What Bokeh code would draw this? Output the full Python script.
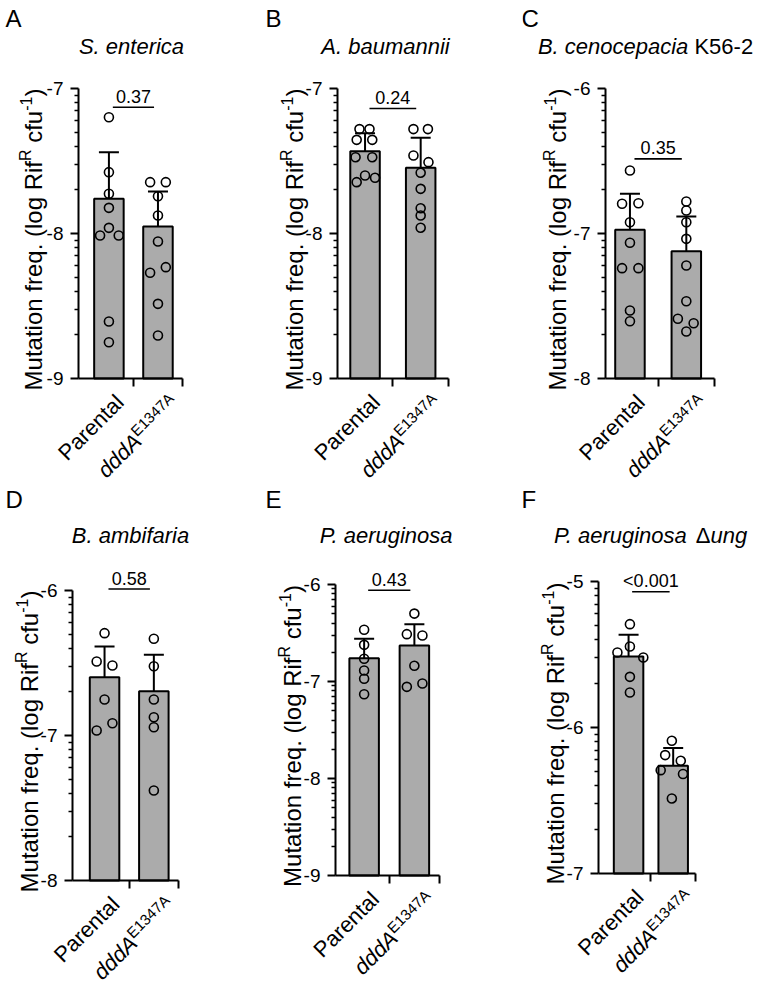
import math
from bokeh.plotting import figure
from bokeh.models import Range1d, FixedTicker, Label, LinearAxis
from bokeh.layouts import column, row
from bokeh.embed import file_html
from bokeh.resources import INLINE

FONT = "Liberation Sans"

# ---------------- data: log10 mutation frequency (Rif^R cfu^-1) ----------------
letters = ["A", "B", "C", "D", "E", "F"]
species = ["S. enterica", "A. baumannii", "B. cenocepacia", "B. ambifaria", "P. aeruginosa", "P. aeruginosa"]
species_upright = ["", "", "K56-2", "", "", "\u0394"]
species_tail = ["", "", "", "", "", "ung"]
categories = ["Parental", "dddA"]
cat_superscript = "E1347A"
p_values = ["0.37", "0.24", "0.35", "0.58", "0.43", "<0.001"]

y_lo = [-9, -9, -8, -8, -9, -7]
y_hi = [-7, -7, -6, -6, -6, -5]

bar_means = [
    [-7.761, -7.952],
    [-7.432, -7.547],
    [-6.974, -7.122],
    [-6.598, -6.694],
    [-6.760, -6.629],
    [-5.514, -6.262],
]
err_tops = [
    [-7.439, -7.710],
    [-7.308, -7.340],
    [-6.726, -6.883],
    [-6.386, -6.443],
    [-6.560, -6.409],
    [-5.365, -6.141],
]
bracket_y = [-7.129, -7.138, -6.485, -5.99, -6.06, -5.07]

parental_pts = [
    [-7.198, -7.577, -7.726, -7.823, -7.961, -8.014, -8.014, -8.607, -8.750],
    [-7.280, -7.280, -7.354, -7.354, -7.474, -7.474, -7.600, -7.616, -7.646],
    [-6.566, -6.795, -6.791, -6.922, -7.064, -7.239, -7.239, -7.531, -7.605],
    [-6.294, -6.490, -6.517, -6.752, -6.915, -6.966],
    [-6.467, -6.622, -6.766, -6.887, -6.972, -7.131],
    [-5.292, -5.445, -5.486, -5.521, -5.653, -5.760],
]
parental_dx = [
    [0, 0, 0, 0, 0, -0.18, 0.2, 0, 0],
    [-0.1, 0.08, -0.15, 0.13, -0.17, 0.13, 0, 0.18, -0.15],
    [0, -0.14, 0.15, 0, 0, -0.14, 0.15, 0, 0],
    [0, -0.16, 0.16, 0, 0.16, -0.16],
    [0, 0, 0, 0, 0, 0],
    [0.03, 0.03, -0.25, 0.33, 0.03, 0.03],
]
mutant_pts = [
    [-7.646, -7.646, -7.743, -7.876, -8.055, -8.271, -8.232, -8.485, -8.703],
    [-7.280, -7.280, -7.462, -7.508, -7.581, -7.692, -7.826, -7.876, -7.960],
    [-6.779, -6.841, -6.922, -7.037, -7.221, -7.467, -7.588, -7.619, -7.676],
    [-6.333, -6.522, -6.752, -6.874, -6.943, -7.379],
    [-6.300, -6.512, -6.526, -6.838, -7.055, -7.021],
    [-6.091, -6.189, -6.228, -6.292, -6.319, -6.486],
]
mutant_dx = [
    [-0.16, 0.16, 0, 0, 0, -0.16, 0.16, 0, 0],
    [-0.13, 0.13, -0.13, 0.14, 0, 0, 0, 0, 0],
    [0, 0, 0, 0, 0, 0, -0.15, 0.13, 0],
    [0, 0, 0, 0, 0, 0],
    [0, -0.15, 0.16, 0, -0.15, 0.16],
    [-0.03, -0.18, 0.17, -0.28, 0.22, -0.03],
]

# ---------------- layout (window pixel positions) ----------------
FIG_W = [261, 261, 261, 261, 261, 261]
FIG_H = [484, 484, 484, 504, 504, 504]
fig_x = [0, 261, 522, 0, 261, 522]
fig_y = [0, 0, 0, 484, 484, 484]
axis_x = [78, 337, 605, 72, 335, 598]
frame_w = [104, 111, 109, 106, 104, 97]
x_start = [0.38, 0.505, 0.566, 0.35, 0.43, 0.326]
top_px = [88, 88, 88, 590, 584, 581]
bot_px = [378, 378, 378, 880, 875, 873]
title_cx = [131, 385, 645, 130, 387, 650]
title_mid = [46, 46, 46, 535, 535, 535]
letter_mid = [18, 18, 18, 499, 499, 499]
letter_x = [5, 265, 521, 5, 265, 521]
ylab_dx = [-45, -43, -48, -43, -43, -43]

AW = {' ': 278, '.': 278, '(': 333, ')': 333, '-': 333, '<': 584, 'A': 667, 'B': 667, 'C': 722,
      'D': 722, 'E': 667, 'F': 611, 'K': 667, 'M': 833, 'P': 667, 'R': 722, 'S': 667, 'a': 556,
      'b': 556, 'c': 500, 'd': 556, 'e': 556, 'f': 278, 'g': 556, 'i': 222, 'l': 222, 'm': 833,
      'n': 556, 'o': 556, 'p': 556, 'q': 556, 'r': 333, 's': 500, 't': 278, 'u': 556, '\u0394': 668}


def tw(s, fs):
    return sum(AW.get(ch, 556) for ch in s) / 1000.0 * fs


def make_panel(i):
    lo, hi = y_lo[i], y_hi[i]
    W, H = FIG_W[i], FIG_H[i]
    ppu = (bot_px[i] - top_px[i]) / (hi - lo)
    spacing = frame_w[i] / (2.5 - x_start[i])
    fig_bottom = fig_y[i] + H
    # frame covers the whole figure; axes are drawn at fixed locations
    xr0 = x_start[i] - (axis_x[i] - fig_x[i]) / spacing
    xr1 = xr0 + W / spacing
    yr0 = lo - (fig_bottom - bot_px[i]) / ppu
    yr1 = hi + (top_px[i] - fig_y[i]) / ppu

    p = figure(width=W, height=H, output_backend="svg", toolbar_location=None,
               x_range=Range1d(xr0, xr1), y_range=Range1d(yr0, yr1),
               x_axis_location=None, y_axis_location=None, min_border=0)
    p.outline_line_color = None
    p.grid.visible = False
    p.background_fill_color = "white"
    p.border_fill_color = "white"

    bw = 29.5 / spacing

    majors = list(range(lo, hi + 1))
    minors = [n + math.log10(k) for n in range(lo, hi) for k in range(2, 10)]
    yax = LinearAxis(fixed_location=x_start[i], bounds=(lo, hi),
                     ticker=FixedTicker(ticks=majors, minor_ticks=minors),
                     major_label_overrides={m: str(m) for m in majors})
    yax.axis_line_width = 2
    yax.major_tick_line_width = 2
    yax.minor_tick_line_width = 1.5
    yax.major_tick_out = 8
    yax.major_tick_in = 0
    yax.minor_tick_out = 4
    yax.minor_tick_in = 0
    yax.major_label_standoff = 7
    yax.major_label_text_font = FONT
    yax.major_label_text_font_size = "19px"
    yax.major_label_text_color = "black"
    p.add_layout(yax, "left")

    xax = LinearAxis(fixed_location=lo, bounds=(x_start[i], 2.5),
                     ticker=FixedTicker(ticks=[1.5, 2.5], minor_ticks=[]),
                     major_label_overrides={1.5: "", 2.5: ""})
    xax.major_label_text_font_size = "0px"
    xax.axis_line_width = 2
    xax.major_tick_line_width = 2
    xax.major_tick_out = 8
    xax.major_tick_in = 0
    p.add_layout(xax, "below")

    xs = [1, 2]
    p.vbar(x=xs, top=bar_means[i], bottom=lo, width=bw, fill_color="#ababab",
           line_color="black", line_width=2)
    p.segment(x0=xs, y0=bar_means[i], x1=xs, y1=err_tops[i], line_color="black", line_width=2)
    cap = 10.0 / spacing
    p.segment(x0=[x - cap for x in xs], y0=err_tops[i], x1=[x + cap for x in xs], y1=err_tops[i],
              line_color="black", line_width=2)

    px = [1 + d for d in parental_dx[i]]
    mx = [2 + d for d in mutant_dx[i]]
    p.scatter(x=px, y=parental_pts[i], size=9, fill_alpha=0, line_color="black", line_width=1.6)
    p.scatter(x=mx, y=mutant_pts[i], size=9, fill_alpha=0, line_color="black", line_width=1.6)

    def lab(text, x, y, size, xu="screen", yu="screen", angle=0.0, align="left",
            style="normal", x_offset=0, y_offset=0):
        p.add_layout(Label(x=x, y=y, x_units=xu, y_units=yu, text=text, angle=angle,
                           text_align=align, text_baseline="middle", text_font=FONT,
                           text_font_size=f"{size}px", text_font_style=style,
                           x_offset=x_offset, y_offset=y_offset, text_color="black"))

    def sx(X):
        return X - fig_x[i]

    def sy(Y):
        return fig_bottom - Y

    # significance bracket
    p.segment(x0=[1.08], y0=[bracket_y[i]], x1=[1.92], y1=[bracket_y[i]], line_color="black",
              line_width=1.6)
    lab(p_values[i], 1.5, bracket_y[i], 18, xu="data", yu="data", align="center", y_offset=11)

    # panel letter
    lab(letters[i], sx(letter_x[i]), sy(letter_mid[i]), 24)

    # title: italic species name + optional upright / italic parts
    fs = 22
    parts = [(species[i], "italic")]
    if species_upright[i]:
        parts.append((species_upright[i], "normal"))
    if species_tail[i]:
        parts.append((species_tail[i], "italic"))
    gap = tw(" ", fs)
    widths = [tw(t, fs) for t, _ in parts]
    total = sum(widths) + gap * (1 if len(parts) > 1 else 0)
    x0 = title_cx[i] - total / 2
    for k, (t, st) in enumerate(parts):
        lab(t, sx(x0), sy(title_mid[i]), fs, style=st)
        x0 += widths[k]
        if k == 0:
            x0 += gap

    # y-axis label, rotated, with superscripts (leading spaces become explicit gaps)
    big, small, rise = 24, 16, 8
    pieces = [("Mutation freq. (log Rif", big, 0, 0), ("R", small, rise, 0),
              ("cfu", big, 0, tw(" ", big)), ("-1", small, rise, 0), (")", big, 0, 0)]
    L = sum(tw(t, s) + g for t, s, _, g in pieces)
    yy = sy((bot_px[i] + top_px[i]) / 2.0 + 6) - L / 2
    xmid = sx(axis_x[i] + ylab_dx[i])
    for t, s, r, g in pieces:
        yy += g
        lab(t, xmid - r, yy, s, angle=math.pi / 2)
        yy += tw(t, s)

    # category labels rotated 45 degrees (anchor = right end, middle line)
    c = math.sqrt(0.5)
    lab(categories[0], 1, sy(bot_px[i] + 20), 22, xu="data", angle=math.pi / 4, align="right",
        x_offset=11)
    sup_fs = 15
    wsup = tw(cat_superscript, sup_fs)
    Sx, Sy = 13, sy(bot_px[i] + 17)
    lab(cat_superscript, 2, Sy, sup_fs, xu="data", angle=math.pi / 4, align="right", x_offset=Sx)
    r = 6
    Mx = Sx - c * wsup + c * r
    My = Sy - c * wsup - c * r
    lab(categories[1], 2, My, 22, xu="data", angle=math.pi / 4, align="right",
        x_offset=Mx, style="italic")
    return p


panels = [make_panel(i) for i in range(6)]
layout = column(row(*panels[:3], spacing=0), row(*panels[3:], spacing=0), spacing=0)
open("out.html", "w").write(file_html(layout, INLINE))
